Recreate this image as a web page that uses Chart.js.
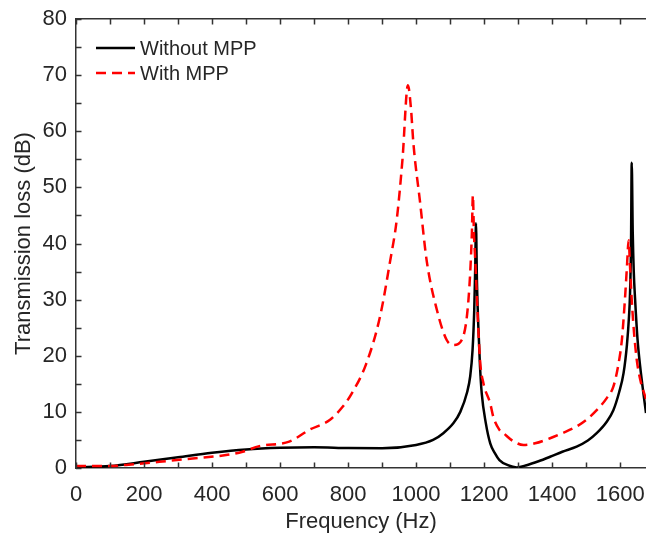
<!DOCTYPE html>
<html>
<head>
<meta charset="utf-8">
<script src="https://cdn.jsdelivr.net/npm/chart.js@4"></script>
<style>
  html, body { margin: 0; padding: 0; background: #fff; overflow: hidden; }
  #chart { display: block; }
</style>
</head>
<body>
<canvas id="chart" width="646" height="539"></canvas>
<script>
// Sin MPP
const freqWithout = [0, 100, 200, 300, 400, 500, 600, 700, 800, 900, 1000, 1050, 1080, 1110, 1130, 1150, 1159, 1166, 1171, 1174, 1176, 1179, 1183, 1188, 1193, 1205, 1218, 1232, 1245, 1270, 1296, 1325, 1360, 1394, 1430, 1472, 1505, 1531, 1560, 1580, 1597, 1610, 1620, 1626, 1629, 1632, 1634, 1637, 1640, 1644, 1651, 1659, 1668, 1676];
const lossWithout = [0.1, 0.35, 1.1, 1.9, 2.7, 3.3, 3.6, 3.7, 3.55, 3.5, 4.1, 5.0, 6.2, 8.0, 10, 13.5, 16.3, 21, 28.2, 36, 43.6, 33, 25.2, 18, 13.3, 8, 4.4, 2.6, 1.4, 0.5, 0.1, 0.5, 1.2, 2.0, 2.9, 3.8, 4.9, 6.2, 8.2, 10.3, 13.5, 16.9, 22, 27, 31, 40, 54.4, 42, 35, 30, 23, 18, 13.5, 9.8];

// Con MPP
const freqWith = [0, 100, 147, 245, 343, 441, 490, 539, 627, 686, 747, 784, 811, 853, 894, 924, 943, 960, 976, 985, 992, 1012, 1031, 1061, 1090, 1110, 1134, 1154, 1164, 1167, 1170, 1174, 1188, 1198, 1218, 1227, 1245, 1257, 1285, 1316, 1350, 1394, 1430, 1472, 1505, 1531, 1560, 1580, 1595, 1605, 1614, 1620, 1625, 1629, 1634, 1641, 1649, 1660, 1676];
const lossWith = [0.35, 0.35, 0.55, 1.1, 1.7, 2.3, 2.9, 3.9, 4.7, 6.8, 8.6, 10.9, 13.3, 18.5, 27, 37, 44.2, 55, 68.2, 64, 57.9, 47.2, 37, 28.2, 22.8, 21.9, 22.8, 30, 41.8, 48.6, 42, 37, 19.2, 15.1, 11.5, 9.1, 6.8, 6.2, 4.8, 4.1, 4.4, 5.3, 6.2, 7.4, 8.8, 10.3, 12.4, 14.5, 18.5, 22.8, 30, 35.9, 40.6, 36, 30, 24, 19.2, 15.5, 12.3];

const xTickLabels = ['0', '200', '400', '600', '800', '1000', '1200', '1400', '1600'];
const yTickLabels = ['0', '10', '20', '30', '40', '50', '60', '70', '80'];

const axisColor = '#333333';
const textColor = '#262626';
const fontFamily = '"Liberation Sans", Arial, Helvetica, sans-serif';

function toPoints(xs, ys) {
    return xs.map((x, i) => ({ x: x, y: ys[i] }));
}

/* Marcas hacia dentro, como en MATLAB */
const innerTicks = {
    id: 'innerTicks',
    afterDatasetsDraw(chart) {
        const { ctx, chartArea, scales } = chart;
        const len = 5.5;
        ctx.save();
        ctx.strokeStyle = axisColor;
        ctx.lineWidth = 1.5;
        ctx.beginPath();
        scales.x.ticks.forEach((t) => {
            const px = Math.round(scales.x.getPixelForValue(t.value)) + 0.5;
            ctx.moveTo(px, chartArea.bottom);
            ctx.lineTo(px, chartArea.bottom - len);
            ctx.moveTo(px, chartArea.top);
            ctx.lineTo(px, chartArea.top + len);
        });
        scales.y.ticks.forEach((t) => {
            const py = Math.round(scales.y.getPixelForValue(t.value)) + 0.5;
            ctx.moveTo(chartArea.left, py);
            ctx.lineTo(chartArea.left + len, py);
        });
        ctx.stroke();
        ctx.restore();
    }
};

/* Leyenda dentro del área */
const insideLegend = {
    id: 'insideLegend',
    afterDatasetsDraw(chart) {
        const { ctx } = chart;
        const rows = [48, 73];
        ctx.save();
        ctx.font = '20px ' + fontFamily;
        ctx.textBaseline = 'middle';
        ctx.textAlign = 'left';
        chart.data.datasets.forEach((ds, i) => {
            const y = rows[i];
            ctx.strokeStyle = ds.borderColor;
            ctx.lineWidth = ds.borderWidth;
            ctx.setLineDash(ds.borderDash || []);
            ctx.beginPath();
            ctx.moveTo(96, y);
            ctx.lineTo(135, y);
            ctx.stroke();
            ctx.setLineDash([]);
            ctx.fillStyle = textColor;
            ctx.fillText(ds.label, 140, y + 1);
        });
        ctx.restore();
    }
};

new Chart(document.getElementById('chart'), {
    type: 'line',
    data: {
        datasets: [
            {
                label: 'Without MPP',
                data: toPoints(freqWithout, lossWithout),
                borderColor: '#000000',
                borderWidth: 2.5,
                order: 2
            },
            {
                label: 'With MPP',
                data: toPoints(freqWith, lossWith),
                borderColor: '#ff0000',
                borderWidth: 2.5,
                borderDash: [10, 6],
                order: 1
            }
        ]
    },
    options: {
        responsive: false,
        animation: false,
        events: [],
        layout: { padding: 0 },
        elements: {
            point: { radius: 0 },
            line: { cubicInterpolationMode: 'monotone' }
        },
        plugins: {
            legend: { display: false },
            tooltip: { enabled: false }
        },
        scales: {
            x: {
                type: 'linear',
                position: 'bottom',
                min: 0,
                max: 1676,
                grid: { display: false, drawTicks: false },
                border: { display: true, color: axisColor, width: 1.5 },
                ticks: {
                    stepSize: 100,
                    includeBounds: false,
                    autoSkip: false,
                    maxRotation: 0,
                    padding: 14,
                    color: textColor,
                    font: { family: fontFamily, size: 22 },
                    callback: (v) => (xTickLabels.includes(String(v)) ? String(v) : '')
                },
                title: {
                    display: true,
                    text: 'Frequency (Hz)',
                    color: textColor,
                    font: { family: fontFamily, size: 22 },
                    padding: { top: 0, bottom: 4 }
                },
                afterFit: (scale) => {
                    scale.height = 71;
                    scale.paddingLeft = 0;
                    scale.paddingRight = 0;
                }
            },
            x2: {
                type: 'linear',
                position: 'top',
                min: 0,
                max: 1676,
                grid: { display: false, drawTicks: false },
                border: { display: true, color: axisColor, width: 1.5 },
                ticks: { display: false },
                afterFit: (scale) => {
                    scale.height = 19;
                    scale.paddingLeft = 0;
                    scale.paddingRight = 0;
                }
            },
            y: {
                min: 0,
                max: 80,
                grid: { display: false, drawTicks: false },
                border: { display: true, color: axisColor, width: 1.5 },
                ticks: {
                    stepSize: 5,
                    autoSkip: false,
                    padding: 9,
                    color: textColor,
                    font: { family: fontFamily, size: 22 },
                    callback: (v) => (yTickLabels.includes(String(v)) ? String(v) : '')
                },
                title: {
                    display: true,
                    text: 'Transmission loss (dB)',
                    color: textColor,
                    font: { family: fontFamily, size: 22 },
                    padding: { top: 11, bottom: 0 }
                },
                afterFit: (scale) => {
                    scale.width = 76;
                    scale.paddingTop = 0;
                    scale.paddingBottom = 0;
                }
            }
        }
    },
    plugins: [innerTicks, insideLegend]
});
</script>
</body>
</html>
